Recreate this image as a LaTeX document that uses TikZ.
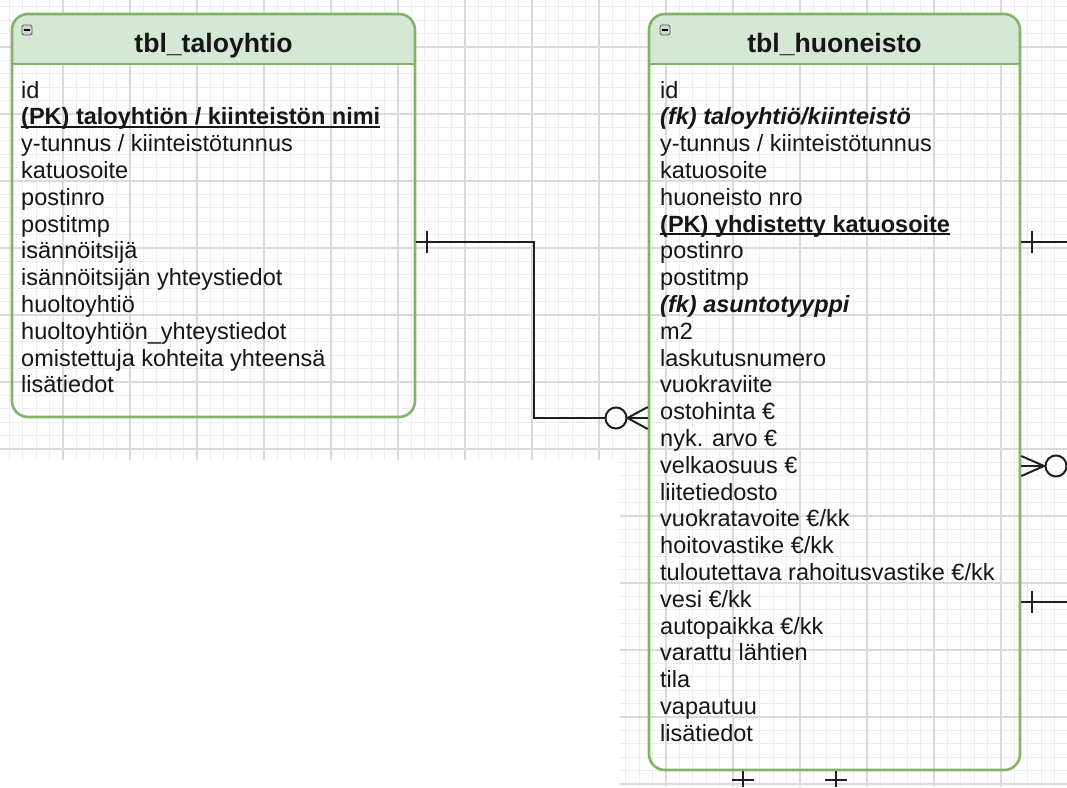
\documentclass[tikz,border=0pt]{standalone}
\usepackage{fontspec}
\setmainfont{Liberation Sans}
\definecolor{gminor}{HTML}{EEEEEE}
\definecolor{gmajor}{HTML}{DADADA}
\definecolor{hdr}{HTML}{D5E8D4}
\definecolor{strk}{HTML}{82B366}
\definecolor{txt}{HTML}{161616}
\tikzset{
  rowtext/.style={anchor=base west, inner sep=0pt, text=txt, font=\fontsize{23.5}{28}\selectfont},
  titletext/.style={anchor=base, inner sep=0pt, text=txt, font=\fontsize{26.6}{30}\selectfont\bfseries},
  tablebox/.style={draw=strk, line width=2.6pt, rounded corners=16pt, inner sep=0pt},
  sepline/.style={draw=strk, line width=2.4pt},
  conn/.style={draw=black!88, line width=2pt},
  endcirc/.style={circle, draw=black!88, line width=2pt, fill=white, minimum size=21pt, inner sep=0pt},
  icon/.style={draw=gray!70!black, fill=gray!35, rounded corners=1.5pt, minimum size=10pt, inner sep=0pt, line width=0.8pt},
  gridminor/.style={draw=gminor, line width=1pt},
  gridmajor/.style={draw=gmajor, line width=1.2pt},
}
\newcommand{\pkrow}[1]{\textbf{\setbox0=\hbox{#1}\rlap{\rule[-3pt]{\wd0}{1.6pt}}\box0}}
\newcommand{\fkrow}[1]{\textbf{\textit{#1}}}
\begin{document}
\begin{tikzpicture}[x=1pt, y=-1pt]
\useasboundingbox (0,0) rectangle (1067,787);
\fill[white] (0,0) rectangle (1067,787);
% background grid
\begin{scope}
  \clip (0,0) -- (1067,0) -- (1067,787) -- (620,787) -- (620,460) -- (0,460) -- cycle;
  \foreach \k in {0,...,79} \draw[gridminor] (9.4+13.4*\k,0) -- ++(0,787);
  \foreach \k in {0,...,58} \draw[gridminor] (0,6.8+13.4*\k) -- ++(1067,0);
  \foreach \k in {0,...,15} \draw[gridmajor] (63+67*\k,0) -- ++(0,787);
  \foreach \k in {0,...,11} \draw[gridmajor] (0,47+67*\k) -- ++(1067,0);
\end{scope}
% header fills
\begin{scope}
  \clip (0,0) rectangle (1067,64);
  \fill[hdr, rounded corners=16pt] (12,14) rectangle (415,120);
  \fill[hdr, rounded corners=16pt] (649,14) rectangle (1020,120);
\end{scope}
% tables
\node[tablebox, minimum width=403pt, minimum height=403pt] (L) at (213.5,215.5) {};
\node[tablebox, minimum width=371pt, minimum height=756pt] (R) at (834.5,392) {};
\coordinate (hs) at (0,64);
\draw[sepline] (L.west |- hs) -- (L.east |- hs);
\draw[sepline] (R.west |- hs) -- (R.east |- hs);
% icons
\node[icon] (Li) at (27,30) {};
\draw[line width=1.4pt] ([xshift=2pt]Li.west) -- ([xshift=-2pt]Li.east);
\node[icon] (Ri) at (665,30) {};
\draw[line width=1.4pt] ([xshift=2pt]Ri.west) -- ([xshift=-2pt]Ri.east);
% titles
\node[titletext] (Lt) at (213.5,52) {tbl\_taloyhtio};
\node[titletext] (Rt) at (834.5,52) {tbl\_huoneisto};
% rows
\foreach \t [count=\i from 0] in {id,
  {\pkrow{(PK) taloyhtiön / kiinteistön nimi}},
  y-tunnus / kiinteistötunnus, katuosoite, postinro, postitmp, isännöitsijä,
  isännöitsijän yhteystiedot, huoltoyhtiö, huoltoyhtiön\_yhteystiedot,
  omistettuja kohteita yhteensä, lisätiedot}
  \node[rowtext] (L\i) at (21,98+26.8*\i) {\t};
\foreach \t [count=\i from 0] in {id,
  {\fkrow{(fk) taloyhtiö/kiinteistö}},
  y-tunnus / kiinteistötunnus, katuosoite, huoneisto nro,
  {\pkrow{(PK) yhdistetty katuosoite}},
  postinro, postitmp,
  {\fkrow{(fk) asuntotyyppi}},
  m2, laskutusnumero, vuokraviite, ostohinta €, nyk. arvo €, velkaosuus €,
  liitetiedosto, vuokratavoite €/kk, hoitovastike €/kk,
  tuloutettava rahoitusvastike €/kk, vesi €/kk, autopaikka €/kk,
  varattu lähtien, tila, vapautuu, lisätiedot}
  \node[rowtext] (R\i) at (660,98+26.8*\i) {\t};
% connector taloyhtio -> huoneisto
\coordinate (yA) at (0,242);
\coordinate (yB) at (0,418);
\node[endcirc] (o1) at (616,418) {};
\draw[conn] (L.east |- yA) -| (534,418) -- (o1.west);
\draw[conn] (427,231) -- (427,253);
\draw[conn] (o1.east) -- (R.west |- 0,407);
\draw[conn] (o1.east) -- (R.west |- yB);
\draw[conn] (o1.east) -- (R.west |- 0,429);
% right side connectors
\coordinate (eA) at (1067,242);
\draw[conn] (R.east |- yA) -- (eA);
\draw[conn] (1032,231) -- (1032,253);
\node[endcirc] (o2) at (1056,466) {};
\coordinate (cm) at (1044,466);
\draw[conn] (R.east |- 0,456) -- (cm);
\draw[conn] (R.east |- 0,466) -- (o2.west);
\draw[conn] (R.east |- 0,476) -- (cm);
\coordinate (eC) at (1067,602);
\draw[conn] (R.east |- eC) -- (eC);
\draw[conn] (1032,591) -- (1032,613);
% bottom connectors
\coordinate (b1) at (743,787);
\coordinate (b2) at (836,787);
\draw[conn] (R.south -| b1) -- (b1);
\draw[conn] (732,780) -- (754,780);
\draw[conn] (R.south -| b2) -- (b2);
\draw[conn] (825,780) -- (847,780);
\end{tikzpicture}
\end{document}
